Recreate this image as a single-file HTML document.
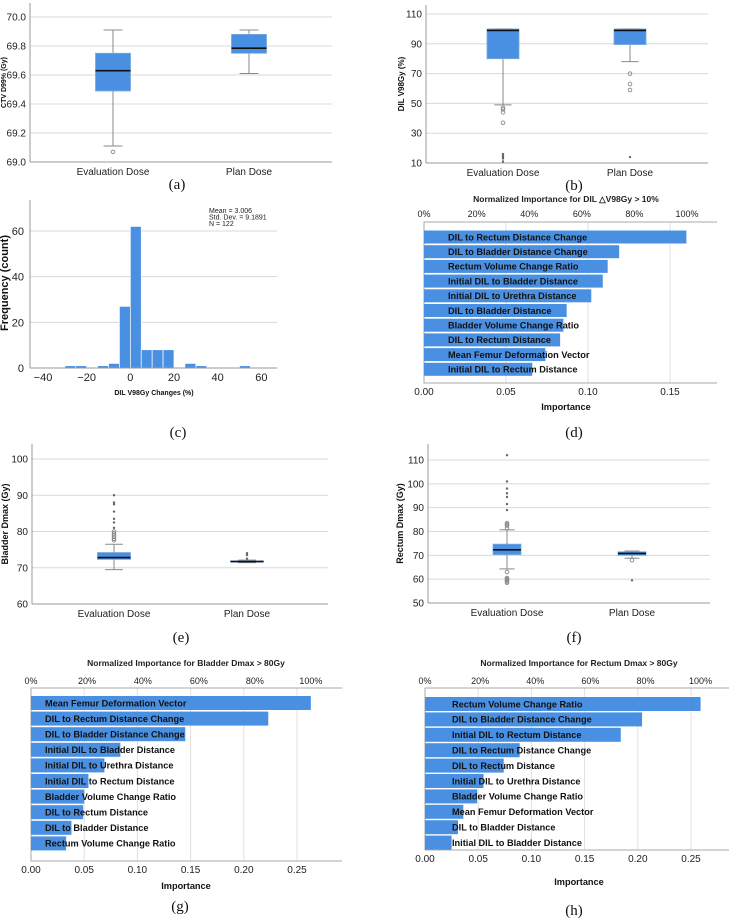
<!DOCTYPE html>
<html><head><meta charset="utf-8">
<style>
html,body{margin:0;padding:0;background:#fff;}
svg{display:block;font-family:"Liberation Sans Narrow","Liberation Sans",sans-serif;}
.t{font-size:10px;fill:#222;}
.bl{font-size:9.2px;font-weight:bold;fill:#111;}
.cap{font-family:"Liberation Serif",serif;font-size:15px;fill:#111;}
</style></head>
<body>
<svg id="fig" width="729" height="921" viewBox="0 0 729 921" xmlns="http://www.w3.org/2000/svg"></svg>
<script>
// ---------- data ----------
const boxCats = ["Evaluation Dose","Plan Dose"];
// [lowWhisker, q1, median, q3, highWhisker]
const aStats = [[69.11,69.49,69.63,69.75,69.91],[69.61,69.75,69.785,69.88,69.91]];
const aOutCircle = [[69.07],[]];
const aOutStar = [[],[]];
const aTicks = [69.0,69.2,69.4,69.6,69.8,70.0];

const bStats = [[49,80,99,100,100],[78,89.5,99,100,100]];
const bOutCircle = [[47,46,44,37],[70,63,59]];
const bOutStar = [[16,15,14,13,11],[14]];
const bTicks = [10,30,50,70,90,110];

const eStats = [[69.5,72.3,72.8,74.2,76.5],[71.4,71.6,71.7,71.9,72.1]];
const eOutCircle = [[77.6,78,78.5,79,79.5,80],[]];
const eOutStar = [[81,82.5,83.5,85.5,87.5,88,90],[72.5,73.5,74]];
const eTicks = [60,70,80,90,100];

const fStats = [[64.3,70.3,72.3,74.7,80.7],[68.8,70,70.8,71.5,71.8]];
const fOutCircle = [[81.5,82.5,83,83.5,63,60.5,60,59.5,59,58.5],[68]];
const fOutStar = [[89,91.5,94.5,96,98,101,112],[59.5]];
const fTicks = [50,60,70,80,90,100,110];

const histBinStart = [-40,-35,-30,-25,-20,-15,-10,-5,0,5,10,15,20,25,30,35,40,45,50,55];
const histCounts = [0,0,1,1,0,1,2,27,62,8,8,8,0,2,1,0,0,0,1,0];
const histXTicks = [-40,-20,0,20,40,60];
const histYTicks = [0,20,40,60];

const dLabels = ["DIL to Rectum Distance Change","DIL to Bladder Distance Change","Rectum Volume Change Ratio","Initial DIL to Bladder Distance","Initial DIL to Urethra Distance","DIL to Bladder Distance","Bladder Volume Change Ratio","DIL to Rectum Distance","Mean Femur Deformation Vector","Initial DIL to Rectum Distance"];
const dValues = [0.160,0.119,0.112,0.109,0.102,0.087,0.085,0.083,0.074,0.066];
const dTicks = [0,0.05,0.10,0.15];

const gLabels = ["Mean Femur Deformation Vector","DIL to Rectum Distance Change","DIL to Bladder Distance Change","Initial DIL to Bladder Distance","Initial DIL to Urethra Distance","Initial DIL to Rectum Distance","Bladder Volume Change Ratio","DIL to Rectum Distance","DIL to Bladder Distance","Rectum Volume Change Ratio"];
const gValues = [0.263,0.223,0.145,0.084,0.069,0.054,0.050,0.049,0.038,0.033];
const gTicks = [0,0.05,0.10,0.15,0.20,0.25];

const hLabels = ["Rectum Volume Change Ratio","DIL to Bladder Distance Change","Initial DIL to Rectum Distance","DIL to Rectum Distance Change","DIL to Rectum Distance","Initial DIL to Urethra Distance","Bladder Volume Change Ratio","Mean Femur Deformation Vector","DIL to Bladder Distance","Initial DIL to Bladder Distance"];
const hValues = [0.259,0.204,0.184,0.089,0.074,0.055,0.049,0.036,0.031,0.025];
const hTicks = [0,0.05,0.10,0.15,0.20,0.25];

const pctTicks = [0,20,40,60,80,100];

// ---------- helpers ----------
const NS="http://www.w3.org/2000/svg";
const svg=document.getElementById('fig');
const BLUE="#4a90e2";
function mk(tag,attrs,parent,text){
  const e=document.createElementNS(NS,tag);
  for(const k in attrs) e.setAttribute(k,attrs[k]);
  if(text!==undefined) e.textContent=text;
  (parent||svg).appendChild(e);
  return e;
}
function lin(d0,d1,r0,r1){return v=>r0+(v-d0)*(r1-r0)/(d1-d0);}
function grp(name){const g=mk('g',{});return g;}

function boxPanel(o){
  const g=grp(o.name);
  const y=lin(o.d0,o.d1,o.r0,o.r1);
  o.ticks.forEach(t=>{
    const l=mk('line',{x1:o.ax,x2:o.right,y1:y(t),y2:y(t),stroke:'#d8d8d8','stroke-width':1},g);
    
    const tx=mk('text',{x:o.ax-4,y:y(t)+3.5,'text-anchor':'end',class:'t'},g,o.fmt(t));
    
  });
  const ax=mk('line',{x1:o.ax,x2:o.ax,y1:o.top,y2:o.r0,stroke:'#999'},g);
  
  const bx=mk('line',{x1:o.ax,x2:o.right,y1:o.r0,y2:o.r0,stroke:'#999'},g);
  
  const yt=mk('text',{x:0,y:0,transform:`translate(${o.titleX},${(o.top+o.r0)/2}) rotate(-90)`,'text-anchor':'middle',class:'bl',style:'font-size:'+o.titleSize+'px'},g,o.title);
  
  boxCats.forEach((c,i)=>{
    const cx=o.cx[i], s=o.stats[i], w=o.bw;
    const xl=mk('text',{x:cx,y:o.r0+13,'text-anchor':'middle',class:'t'},g,c);
    
    const wl=mk('line',{x1:cx,x2:cx,y1:y(s[0]),y2:y(s[4]),stroke:'#888'},g);
    
    [s[0],s[4]].forEach(v=>{const cp=mk('line',{x1:cx-w*0.27,x2:cx+w*0.27,y1:y(v),y2:y(v),stroke:'#888'},g);
      });
    const top=Math.min(y(s[1]),y(s[3])), h=Math.abs(y(s[1])-y(s[3]));
    const r=mk('rect',{x:cx-w/2,y:top,width:w,height:Math.max(1,h),fill:BLUE,stroke:'#7aa9dd','stroke-width':0.8},g);
    
    const m=mk('line',{x1:cx-w/2,x2:cx+w/2,y1:y(s[2]),y2:y(s[2]),stroke:'#111','stroke-width':1.6},g);
    
    o.oc[i].forEach(v=>{const p=mk('circle',{cx:cx,cy:y(v),r:1.8,fill:'none',stroke:'#888','stroke-width':0.9},g);
      });
    o.os[i].forEach(v=>{const p=mk('circle',{cx:cx,cy:y(v),r:1.2,fill:'#666'},g);
      });
  });
}

function barPanel(o){
  const g=grp(o.name);
  const x=lin(0,o.unit,o.x0,o.x0+o.unitPx);
  const pct=lin(0,100,o.x0,x(o.max));
  const tt=mk('text',{x:o.titleX,y:o.titleY,'text-anchor':'middle',class:'t',style:'font-size:8.5px;font-weight:bold'},g,o.title);
  
  pctTicks.forEach(p=>{const t=mk('text',{x:pct(p),y:o.pctY,'text-anchor':'middle',class:'t',style:'font-size:9px'},g,p+'%');
    });
  o.ticks.forEach(v=>{
    if(v>0){const l=mk('line',{x1:x(v),x2:x(v),y1:o.top,y2:o.bottom,stroke:'#e0e0e0'},g);
      }
    const t=mk('text',{x:x(v),y:o.bottom+12,'text-anchor':'middle',class:'t'},g,v.toFixed(2));
    
  });
  const fr=mk('path',{d:`M${o.right},${o.top}H${o.x0}V${o.bottom}H${o.right}`,fill:'none',stroke:'#aaa'},g);
  
  o.labels.forEach((lb,i)=>{
    const cy=o.firstY+i*o.step;
    const r=mk('rect',{x:o.x0,y:cy-o.bh/2,width:x(o.values[i])-o.x0,height:o.bh,fill:BLUE},g);
    
    const t=mk('text',{x:o.labelX,y:cy+3.3,class:'bl'},g,lb);
    
  });
  const it=mk('text',{x:o.titleX,y:o.impY,'text-anchor':'middle',class:'bl'},g,'Importance');
  
}

function caption(x,y,t){const c=mk('text',{x:x,y:y,'text-anchor':'middle',class:'cap'},svg,t);
  }

// ---------- panels ----------
boxPanel({name:'panel-a-ctv-d99',d0:69,d1:70,r0:162,r1:17,top:3,ax:30,right:332,ticks:aTicks,fmt:v=>v.toFixed(1),
  title:'CTV D99% (Gy)',titleX:6,titleSize:7,cx:[113,249],bw:35,stats:aStats,oc:aOutCircle,os:aOutStar});
boxPanel({name:'panel-b-dil-v98',d0:10,d1:110,r0:163,r1:14,top:5,ax:426,right:708,ticks:bTicks,fmt:v=>String(v),
  title:'DIL V98Gy (%)',titleX:404,titleSize:8,cx:[503,630],bw:32,stats:bStats,oc:bOutCircle,os:bOutStar});
boxPanel({name:'panel-e-bladder-dmax',d0:60,d1:100,r0:604,r1:459,top:444,ax:32,right:328,ticks:eTicks,fmt:v=>String(v),
  title:'Bladder Dmax (Gy)',titleX:8,titleSize:9,cx:[114,247],bw:33,stats:eStats,oc:eOutCircle,os:eOutStar});
boxPanel({name:'panel-f-rectum-dmax',d0:50,d1:110,r0:603,r1:460,top:444,ax:428,right:710,ticks:fTicks,fmt:v=>String(v),
  title:'Rectum Dmax (Gy)',titleX:403,titleSize:9,cx:[507,632],bw:28,stats:fStats,oc:fOutCircle,os:fOutStar});

// histogram (c)
(function(){
  const g=grp('panel-c-histogram');
  const x=lin(-40,20,43,174), y=lin(0,60,368,231);
  histYTicks.forEach(t=>{
    if(t>0){const l=mk('line',{x1:30,x2:277,y1:y(t),y2:y(t),stroke:'#d8d8d8'},g);
      }
    const tx=mk('text',{x:24,y:y(t)+4,'text-anchor':'end',class:'t',style:'font-size:11px'},g,t);
    
  });
  histXTicks.forEach(t=>{const tx=mk('text',{x:x(t),y:381,'text-anchor':'middle',class:'t',style:'font-size:11px'},g,String(t).replace('-','\u2212'));
    });
  histBinStart.forEach((b,i)=>{
    if(histCounts[i]<=0) return;
    const r=mk('rect',{x:x(b),y:y(histCounts[i]),width:x(b+5)-x(b),height:y(0)-y(histCounts[i]),fill:BLUE,stroke:'#fff','stroke-width':0.7},g);
    
  });
  const ax=mk('line',{x1:30,x2:30,y1:200,y2:368,stroke:'#999'},g);
  const bx=mk('line',{x1:30,x2:277,y1:368,y2:368,stroke:'#999'},g);
  ['Mean = 3.006','Std. Dev. = 9.1891','N = 122'].forEach((s,i)=>{const t=mk('text',{x:209,y:213+i*6.5,class:'t',style:'font-size:7px'},g,s);
    });
  const yt=mk('text',{x:0,y:0,transform:'translate(8,283) rotate(-90)','text-anchor':'middle',class:'bl',style:'font-size:11px'},g,'Frequency (count)');
  
  const xt=mk('text',{x:154,y:395,'text-anchor':'middle',class:'bl',style:'font-size:7px'},g,'DIL V98Gy Changes (%)');
  
})();

barPanel({name:'panel-d-importance-dil',x0:424,unit:0.15,unitPx:246,max:0.1604,right:717,top:222,bottom:383,
  titleX:566,titleY:202,pctY:217,title:'Normalized Importance for DIL \u25B3V98Gy > 10%',labels:dLabels,values:dValues,ticks:dTicks,
  firstY:237,step:14.7,bh:13,labelX:448,impY:410});
barPanel({name:'panel-g-importance-bladder',x0:31,unit:0.25,unitPx:266,max:0.263,right:342,top:688,bottom:861,
  titleX:186,titleY:666,pctY:684,title:'Normalized Importance for Bladder Dmax > 80Gy',labels:gLabels,values:gValues,ticks:gTicks,
  firstY:703,step:15.6,bh:14,labelX:45,impY:889});
barPanel({name:'panel-h-importance-rectum',x0:425,unit:0.25,unitPx:266,max:0.259,right:729,top:688,bottom:850,
  titleX:579,titleY:666,pctY:684,title:'Normalized Importance for Rectum Dmax > 80Gy',labels:hLabels,values:hValues,ticks:hTicks,
  firstY:704,step:15.4,bh:14,labelX:452,impY:885});

caption(177,189,'(a)');caption(574,190,'(b)');
caption(178,437,'(c)');caption(574,437,'(d)');
caption(181,642,'(e)');caption(574,642,'(f)');
caption(180,911,'(g)');caption(574,915,'(h)');
</script>
</body></html>
